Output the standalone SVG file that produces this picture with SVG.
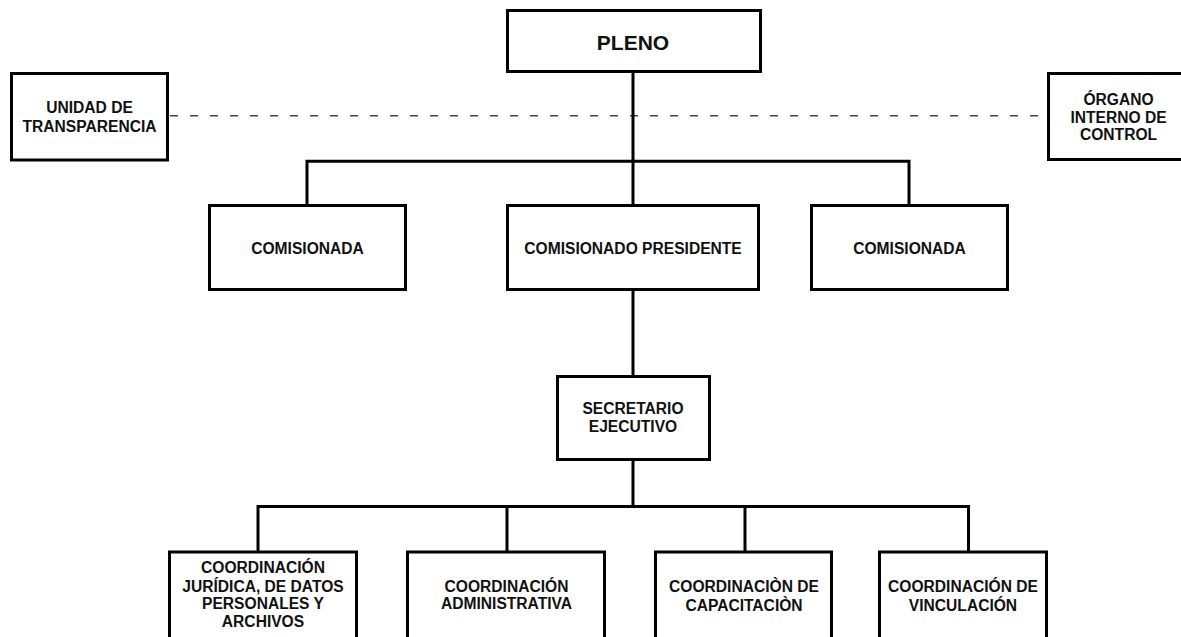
<svg xmlns="http://www.w3.org/2000/svg" width="1181" height="637" viewBox="0 0 1181 637">
<style>
.box{fill:#fff;stroke:#000;stroke-width:3}
.ln{fill:none;stroke:#000;stroke-width:3}
.dash{fill:none;stroke:#444;stroke-width:1.5;stroke-dasharray:8 12}
text{font-family:"Liberation Sans",Arial,sans-serif;font-weight:bold;font-size:15.6px;fill:#111;text-anchor:middle}
.big{font-size:21px}
</style>
<rect width="1181" height="637" fill="#fff"/>
<g id="connectors">
<line class="dash" x1="170" y1="115.7" x2="1047" y2="115.7"/>
<line class="ln" x1="633" y1="72" x2="633" y2="205"/>
<polyline class="ln" points="307,205 307,161.3 909,161.3 909,205"/>
<line class="ln" x1="633" y1="290" x2="633" y2="376"/>
<line class="ln" x1="633" y1="460" x2="633" y2="506.5"/>
<polyline class="ln" points="258,552 258,506.5 968.5,506.5 968.5,552"/>
<line class="ln" x1="507" y1="506.5" x2="507" y2="552"/>
<line class="ln" x1="745" y1="506.5" x2="745" y2="552"/>
</g>
<g id="pleno"><rect class="box" x="507.5" y="10.5" width="253" height="61"/><text class="big" x="633" y="50">PLENO</text></g>
<g id="unidad"><rect class="box" x="11.5" y="73.5" width="156" height="86.5"/><text x="89.5" y="113.3">UNIDAD DE</text><text x="89.5" y="131.7">TRANSPARENCIA</text></g>
<g id="organo"><rect class="box" x="1048.5" y="73.5" width="141" height="86"/><text x="1118.5" y="105">ÓRGANO</text><text x="1118.5" y="122.7">INTERNO DE</text><text x="1118.5" y="140">CONTROL</text></g>
<g id="comisionada1"><rect class="box" x="209.5" y="205.5" width="196" height="84"/><text x="307.5" y="254.3">COMISIONADA</text></g>
<g id="presidente"><rect class="box" x="507.5" y="205.5" width="251" height="84"/><text x="633" y="254.3">COMISIONADO PRESIDENTE</text></g>
<g id="comisionada2"><rect class="box" x="811.5" y="205.5" width="196" height="84"/><text x="909.5" y="254.3">COMISIONADA</text></g>
<g id="secretario"><rect class="box" x="557.5" y="376.5" width="152" height="83"/><text x="633" y="414.3">SECRETARIO</text><text x="633" y="432.3">EJECUTIVO</text></g>
<g id="juridica"><rect class="box" x="169.5" y="552" width="187" height="100"/><text x="263" y="573.3">COORDINACIÓN</text><text x="263" y="591.7">JURÍDICA, DE DATOS</text><text x="263" y="609">PERSONALES Y</text><text x="263" y="627.3">ARCHIVOS</text></g>
<g id="administrativa"><rect class="box" x="407.5" y="552" width="197" height="100"/><text x="506.5" y="591.7">COORDINACIÓN</text><text x="506.5" y="609">ADMINISTRATIVA</text></g>
<g id="capacitacion"><rect class="box" x="655.5" y="552" width="176" height="100"/><text x="744" y="592.3">COORDINACIÒN DE</text><text x="744" y="610.7">CAPACITACIÒN</text></g>
<g id="vinculacion"><rect class="box" x="879.5" y="552" width="167" height="100"/><text x="963" y="592.3">COORDINACIÓN DE</text><text x="963" y="610.7">VINCULACIÓN</text></g>
</svg>
